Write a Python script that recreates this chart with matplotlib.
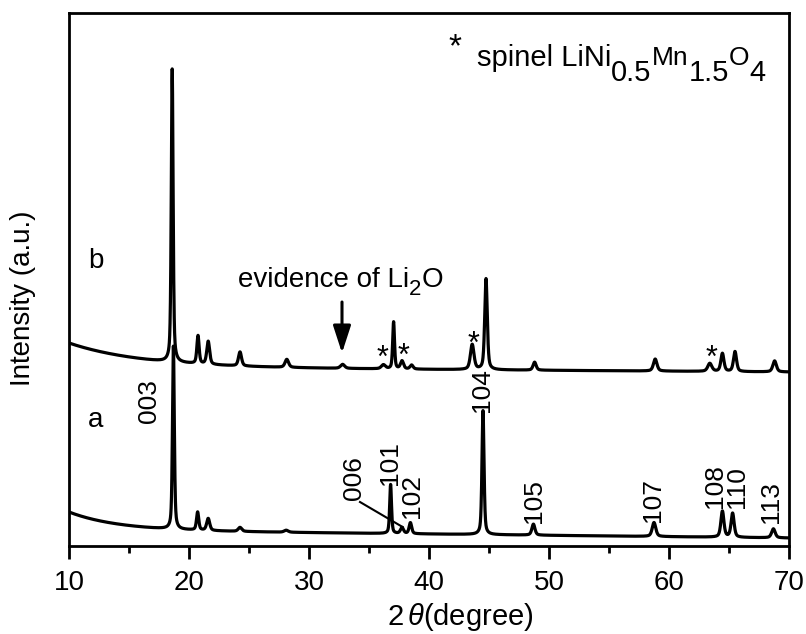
import matplotlib
matplotlib.use("Agg")
import matplotlib.pyplot as plt
import numpy as np

plt.rcParams["font.family"] = ["Liberation Sans", "DejaVu Sans"]
plt.rcParams["mathtext.fontset"] = "custom"
plt.rcParams["mathtext.rm"] = "Liberation Sans"
plt.rcParams["mathtext.it"] = "Liberation Sans:italic"

# peak list, pattern a (2theta, height above background, fwhm)
pos_a = [18.70, 20.72, 21.60, 24.25, 28.1, 36.80, 37.75, 38.45, 44.50, 48.70, 58.75, 64.45, 65.30, 68.70]
hgt_a = [183, 18, 12, 4, 2, 49, 6, 11, 124, 11, 14, 26, 24, 9]
fw_a = [0.18, 0.22, 0.30, 0.35, 0.4, 0.18, 0.3, 0.25, 0.20, 0.30, 0.35, 0.30, 0.30, 0.35]

# peak list, pattern b
pos_b = [18.60, 20.75, 21.60, 24.25, 28.15, 32.80, 36.20, 37.05, 37.75, 38.55, 43.60,
         44.75, 48.80, 58.85, 63.40, 64.45, 65.50, 68.80]
hgt_b = [293, 28, 23, 14, 8, 4, 4, 47, 8, 4, 25, 91, 8, 12, 8, 18, 20, 11]
fw_b = [0.18, 0.22, 0.28, 0.30, 0.35, 0.4, 0.4, 0.18, 0.3, 0.3, 0.35, 0.25,
        0.30, 0.35, 0.40, 0.30, 0.30, 0.35]

# background: floor, linear slope term, low-angle decay amplitude, decay length
bg_a = (8, 8, 18, 4.0)
bg_b = (174, 5, 24, 6.0)

hkl_labels = ["003", "006", "101", "102", "104", "105", "107", "108", "110", "113"]
hkl_x = [16.67, 33.75, 36.75, 38.60, 44.40, 48.75, 58.67, 63.83, 65.67, 68.50]
hkl_y = [123, 46, 61, 28, 134, 23, 24, 38, 38, 23]

star_x = [36.1, 37.9, 43.75, 63.5]
star_y = [195, 197, 209, 195]

arrow_x = 32.75
arrow_from, arrow_to = 244, 193


def pattern(x, pos, hgt, fw, bg):
    floor, slope, amp, tau = bg
    y = floor + slope * (70 - x) / 60 + amp * np.exp(-(x - 10) / tau)
    for p, h, w in zip(pos, hgt, fw):
        g = np.exp(-4 * np.log(2) * ((x - p) / w) ** 2)
        lz = 1 / (1 + 4 * ((x - p) / w) ** 2)
        y = y + h * (0.5 * g + 0.5 * lz)
    return y


x = np.linspace(10, 70, 6001)
ya = pattern(x, pos_a, hgt_a, fw_a, bg_a)
yb = pattern(x, pos_b, hgt_b, fw_b, bg_b)

fig = plt.figure(figsize=(8.06, 6.34), dpi=100)
ax = fig.add_axes([69 / 806, 1 - 546 / 634, 720 / 806, 533 / 634])

ax.plot(x, ya, color="black", lw=2.3)
ax.plot(x, yb, color="black", lw=2.3)

ax.set_xlim(10, 70)
ax.set_ylim(0, 533)
ax.set_xticks(np.arange(10, 71, 10))
ax.set_xticks(np.arange(15, 70, 10), minor=True)
ax.set_yticks([])
ax.tick_params(axis="x", which="major", direction="out", length=9, width=2, labelsize=20, pad=8)
ax.tick_params(axis="x", which="minor", direction="out", length=5, width=2)
for s in ax.spines.values():
    s.set_linewidth(2)

fig.text(23 / 806, 1 - 298 / 634, "Intensity (a.u.)", rotation=90, ha="center", va="center", fontsize=20)
fig.text(460 / 806, 1 - 625 / 634, r"2$\,\mathit{\theta}$(degree)", ha="center", va="baseline", fontsize=21)

# Miller indices for pattern a
for lab, lx, ly in zip(hkl_labels, hkl_x, hkl_y):
    ax.text(lx, ly, lab, rotation=90, ha="center", va="bottom", fontsize=19)
ax.plot([34.25, 37.8], [44, 19], color="black", lw=1.5)

# spinel reflections in pattern b
for sx, sy in zip(star_x, star_y):
    ax.text(sx, sy - 16, "*", ha="center", va="baseline", fontsize=22)

ax.text(12.2, 119, "a", ha="center", va="baseline", fontsize=20)
ax.text(12.2, 278, "b", ha="center", va="baseline", fontsize=20)

ax.text(24.08, 259, "evidence of Li", ha="left", va="baseline", fontsize=20)
ax.annotate("2", xy=(1, 0), xycoords=(ax.texts[-1], ax.texts[-1]), xytext=(0, -7),
            textcoords="offset pixels", ha="left", va="bottom", fontsize=16)
ax.annotate("O", xy=(1, 0), xycoords=(ax.texts[-1], ax.texts[-2]), xytext=(0, 0),
            textcoords="offset pixels", ha="left", va="bottom", fontsize=20)
ax.annotate("", xy=(arrow_x, arrow_to), xytext=(arrow_x, arrow_from),
            arrowprops=dict(arrowstyle="-|>,head_length=0.83,head_width=0.27",
                            mutation_scale=20, lw=2.2, color="black",
                            shrinkA=0, shrinkB=0))

# legend line: spinel formula with full-size subscripts
ax.text(42.2, 490, "*", ha="center", va="baseline", fontsize=24)
base = ax.text(44.0, 480, "spinel LiNi", ha="left", va="baseline", fontsize=21)
prev = base
for piece, size, dy in [("0.5", 21, -15), ("Mn", 19, 2), ("1.5", 21, -15), ("O", 19, 2), ("4", 21, -15)]:
    prev = ax.annotate(piece, xy=(1, 0), xycoords=(prev, base), xytext=(0, dy),
                       textcoords="offset pixels", ha="left", va="bottom", fontsize=size)

fig.savefig("out.png", dpi=100)
